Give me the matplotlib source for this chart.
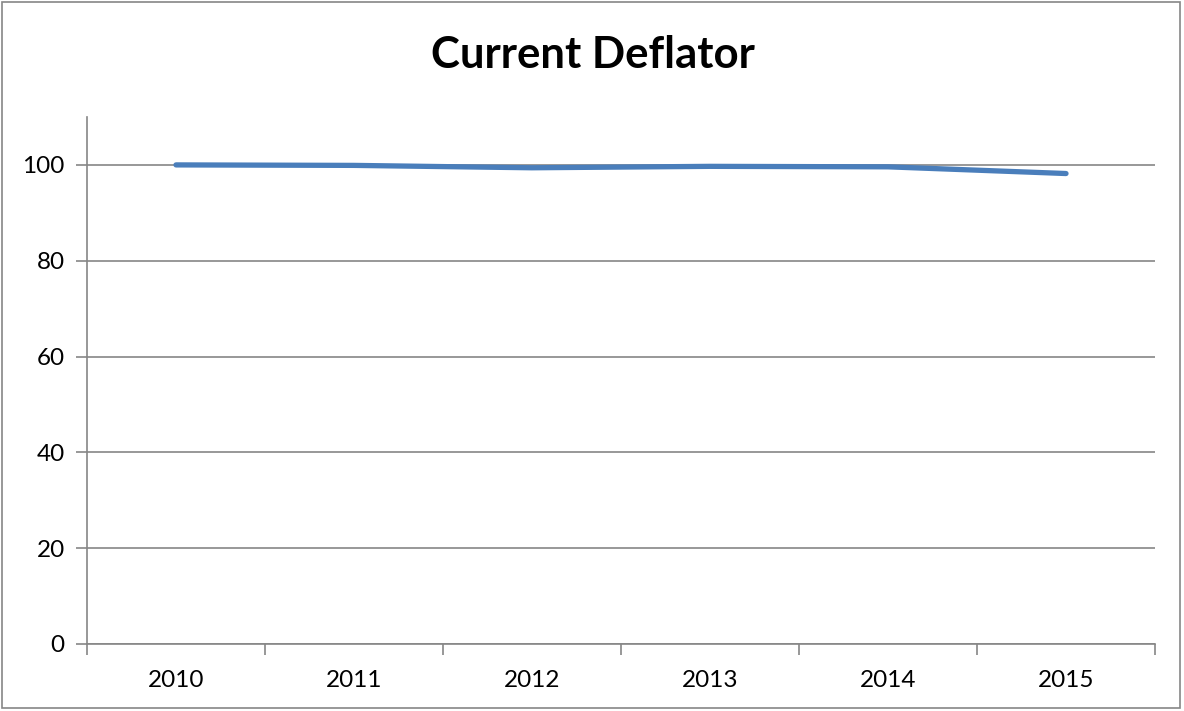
import matplotlib
matplotlib.use("Agg")
import matplotlib.pyplot as plt
from matplotlib.patches import Rectangle

# Data
years = ["2010", "2011", "2012", "2013", "2014", "2015"]
deflator = [100.0, 99.9, 99.4, 99.7, 99.6, 98.2]
y_ticks = [0, 20, 40, 60, 80, 100]

plt.rcParams['font.family'] = ['Lato', 'DejaVu Sans']

fig = plt.figure(figsize=(11.84, 7.11), dpi=100)
ax = fig.add_axes([87 / 1184, 1 - 644 / 711, (1155 - 87) / 1184, (644 - 117) / 711])

# Outer chart border
fig.patches.append(Rectangle((2 / 1184, 3 / 711), 1178 / 1184, 706 / 711,
                             transform=fig.transFigure, fill=False,
                             edgecolor="#868686", linewidth=1.2))

x = list(range(len(years)))
ax.plot(x, deflator, color="#4a7ebb", linewidth=3.8, solid_capstyle="round",
        solid_joinstyle="round", zorder=3)

ax.set_xlim(-0.5, len(years) - 0.5)
ax.set_ylim(0, 110)
ax.set_yticks(y_ticks)
ax.set_xticks(x)
ax.set_xticklabels(years)
ax.set_xticks([i - 0.5 for i in range(len(years) + 1)], minor=True)

ax.grid(axis="y", color="#868686", linewidth=1.2)
ax.set_axisbelow(True)
for side in ["top", "right"]:
    ax.spines[side].set_visible(False)
for side in ["left", "bottom"]:
    ax.spines[side].set_color("#868686")
    ax.spines[side].set_linewidth(1.2)

ax.tick_params(axis="y", length=8, width=1.2, color="#868686", labelsize=17.5, pad=8)
ax.tick_params(axis="x", which="major", length=0, labelsize=17.5, pad=19)
ax.tick_params(axis="x", which="minor", length=8, width=1.2, color="#868686")

fig.text(593 / 1184, 1 - 55 / 711, "Current Deflator", ha="center", va="center",
         fontsize=31.5, fontweight="bold")

fig.savefig("out.png", dpi=100)
